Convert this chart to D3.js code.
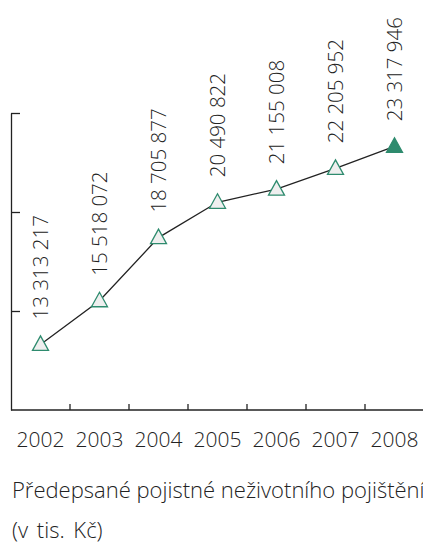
<!DOCTYPE html>
<html>
<head>
<meta charset="utf-8">
<script src="https://cdn.jsdelivr.net/npm/d3@7"></script>
<style>
  body { margin: 0; background: #fff; }
  svg { display: block; font-family: "Open Sans", sans-serif; font-weight: 300; }
</style>
</head>
<body>
<script>
(()=>{
    const width = 423;
    const height = 548;
    const marginLeft = 11;
    const axisTop = 113;
    const axisBottom = 410;

    const years = ["2002", "2003", "2004", "2005", "2006", "2007", "2008"];
    const premiums = [13313217, 15518072, 18705877, 20490822, 21155008, 22205952, 23317946];
    const yTicks = [15000000, 20000000, 25000000];
    const title = "Předepsané pojistné neživotního pojištění";
    const unit = "(v tis. Kč)";

    const data = years.map((d,i)=>({year: d, value: premiums[i], last: i === years.length-1}));

    const fmt = v => d3.format(",")(v).replace(/,/g, " ");

    const x = d3.scaleBand()
    .domain(years)
    .range([marginLeft, marginLeft + 59*years.length])
    .padding(0);

    const y = d3.scaleLinear()
    .domain([10000000, 25000000])
    .range([axisBottom, axisTop]);

    const cx = d => x(d.year) + x.bandwidth()/2;

    const svg = d3.create("svg")
    .attr("width", width)
    .attr("height", height)
    .attr("viewBox", [0, 0, width, height]);

    // left axis, ticks pointing right
    const yAxis = svg.append("g")
    .attr("transform", `translate(${marginLeft},0)`)
    .call(d3.axisRight(y).tickValues(yTicks).tickSize(9).tickSizeOuter(0).tickFormat(""));
    yAxis.select(".domain").attr("stroke", "#222").attr("stroke-width", 1.3);
    yAxis.selectAll(".tick line").attr("stroke", "#222").attr("stroke-width", 1.3);

    // bottom axis line with separators between years
    svg.append("line")
    .attr("x1", marginLeft).attr("x2", width)
    .attr("y1", axisBottom).attr("y2", axisBottom)
    .attr("stroke", "#222").attr("stroke-width", 1.3);

    svg.selectAll("sepTicks")
    .data(years.slice(1))
    .enter()
    .append("line")
    .attr("x1", d=>x(d)).attr("x2", d=>x(d))
    .attr("y1", axisBottom).attr("y2", axisBottom-6)
    .attr("stroke", "#222").attr("stroke-width", 1.3);

    svg.selectAll("yearLabels")
    .data(years)
    .enter()
    .append("text")
    .attr("x", d=>x(d) + x.bandwidth()/2)
    .attr("y", 447)
    .attr("text-anchor", "middle")
    .attr("font-size", 21)
    .attr("fill", "#222")
    .text(d=>d);

    const line = d3.line()
    .x(cx)
    .y(d=>y(d.value));

    svg.append("path")
    .datum(data)
    .attr("d", line)
    .attr("fill", "none")
    .attr("stroke", "#222")
    .attr("stroke-width", 1.3);

    svg.selectAll("markers")
    .data(data)
    .enter()
    .append("path")
    .attr("transform", d=>`translate(${cx(d)},${y(d.value)})`)
    .attr("d", "M0,-8.5L8,6L-8,6Z")
    .attr("fill", d=>d.last ? "#2e8b6e" : "#efefef")
    .attr("stroke", "#2e8b6e")
    .attr("stroke-width", 1.3)
    .attr("stroke-linejoin", "miter");

    svg.selectAll("valueLabels")
    .data(data)
    .enter()
    .append("text")
    .attr("transform", d=>`translate(${cx(d)},${y(d.value) - 25}) rotate(-90)`)
    .attr("dy", "0.35em")
    .attr("text-anchor", "start")
    .attr("font-size", 20.5)
    .attr("fill", "#222")
    .text(d=>fmt(d.value));

    svg.append("text")
    .attr("x", 12)
    .attr("y", 498)
    .attr("font-size", 22)
    .attr("fill", "#222")
    .text(title);

    svg.append("text")
    .attr("x", 12)
    .attr("y", 538)
    .attr("font-size", 22)
    .attr("word-spacing", 3)
    .attr("fill", "#222")
    .text(unit);

    d3.select("body").append(()=>svg.node());
})()
</script>
</body>
</html>
